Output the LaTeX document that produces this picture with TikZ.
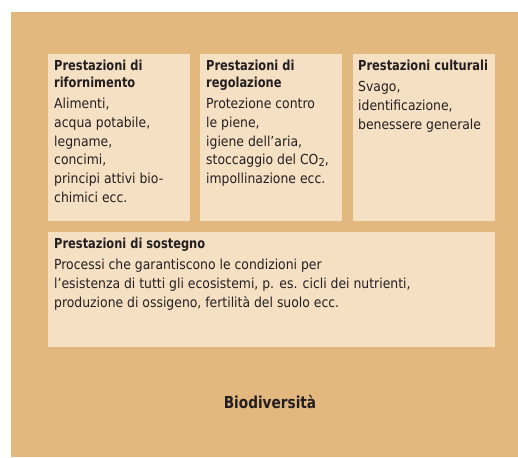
\documentclass[tikz,border=0pt]{standalone}
\usepackage{fontspec}
\setmainfont{DejaVu Sans Condensed}[BoldFeatures={FakeStretch=0.92}]
\usetikzlibrary{positioning}

\definecolor{tanback}{RGB}{226,184,127}
\definecolor{panelfill}{RGB}{246,224,196}
\definecolor{inkdark}{RGB}{35,31,32}

\tikzset{
  panel/.style={fill=panelfill,anchor=north west,inner xsep=6pt,inner ysep=0pt,text=inkdark},
  heading/.style={font=\bfseries\fontsize{16.5}{18}\selectfont,text=inkdark}
}
% box of fixed size, heading on top
\newcommand{\panelbox}[4]{\parbox[t][#2][t]{#1}{%
  \fontsize{13.8}{18.7}\selectfont
  {\bfseries\fontsize{13.8}{17}\selectfont\rule{0pt}{16.5pt}#3\par}\vspace{2.3pt}#4}}

\begin{document}
\begin{tikzpicture}[x=1pt,y=-1pt]
\useasboundingbox (0,0) rectangle (518,457);
\fill[white] (0,0) rectangle (518,457);
\fill[tanback] (11,12) rectangle (518,457);

% the three top panels
\node[panel] (supply) at (48,54) {\panelbox{130pt}{167pt}{Prestazioni di\\rifornimento}%
  {Alimenti,\\acqua potabile,\\legname,\\concimi,\\principi attivi bio-\\chimici ecc.}};
\node[panel] (regulation) at (200,54) {\panelbox{130pt}{167pt}{Prestazioni di\\regolazione}%
  {Protezione contro\\le piene,\\igiene dell'aria,\\stoccaggio del CO\raisebox{-1.5pt}{\fontsize{11}{11}\selectfont 2},\\impollinazione ecc.}};
\node[panel,inner xsep=5pt] (cultural) at (353,54) {\panelbox{132pt}{167pt}{Prestazioni culturali}%
  {Svago,\\identificazione,\\benessere generale}};

% the wide panel below
\node[panel] (support) at (48,232) {\panelbox{435pt}{115pt}{Prestazioni di sostegno}%
  {Processi che garantiscono le condizioni per\\l'esistenza di tutti gli ecosistemi, p. es. cicli dei nutrienti,\\produzione di ossigeno, fertilità del suolo ecc.}};

\node[heading,anchor=base] (biodiv) at (270,408) {Biodiversità};
\end{tikzpicture}
\end{document}
